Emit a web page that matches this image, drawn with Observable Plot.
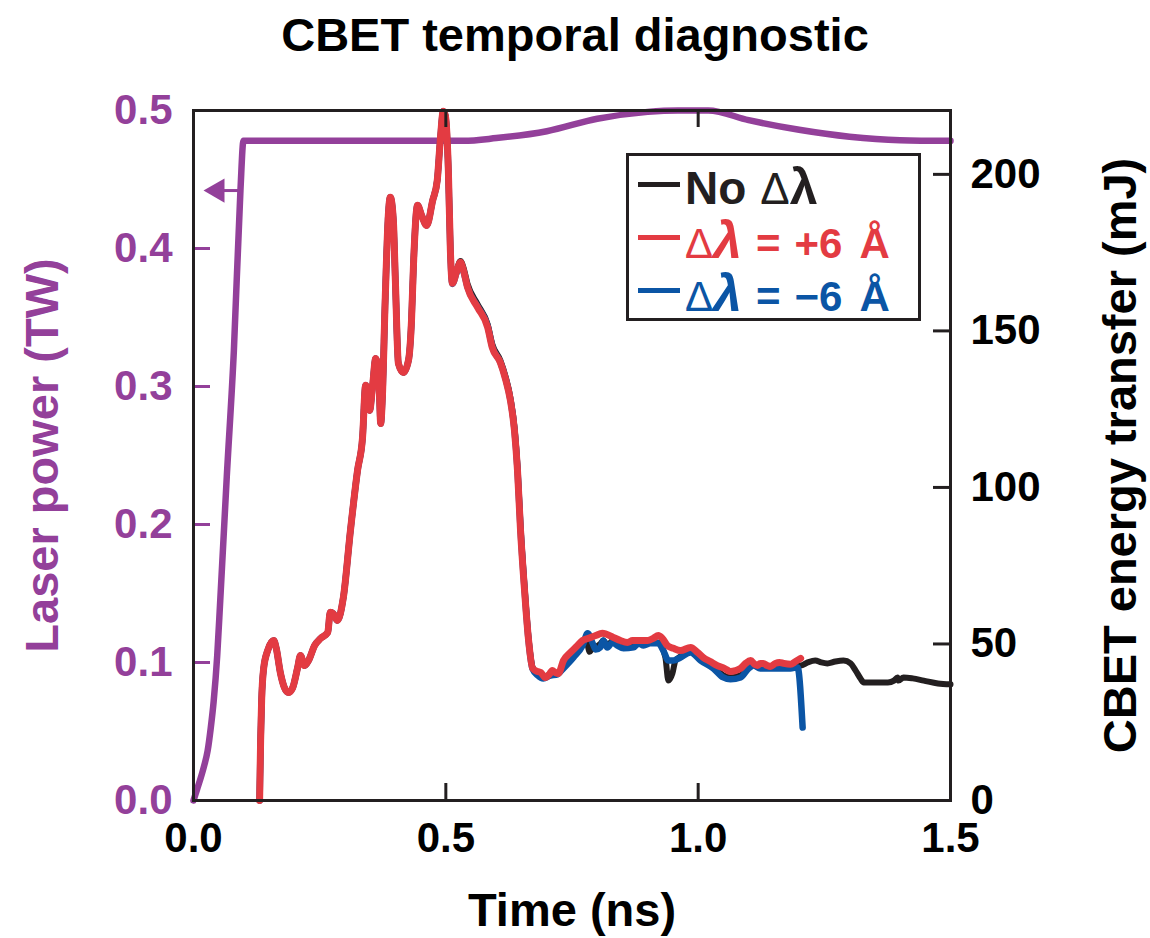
<!DOCTYPE html>
<html><head><meta charset="utf-8">
<script src="https://cdn.jsdelivr.net/npm/d3@7"></script>
<script src="https://cdn.jsdelivr.net/npm/@observablehq/plot@0.6"></script>
<style>
body{margin:0;background:#fff;font-family:"Liberation Sans",Arial,sans-serif;}
#wrap{position:relative;width:1150px;height:938px;overflow:hidden;}
#title{position:absolute;left:0;top:0;width:1150px;height:70px;line-height:70px;text-align:center;font-weight:bold;font-size:47px;color:#000;}
#chart{position:absolute;left:0;top:70px;}
#legend{position:absolute;left:626px;top:153px;width:295px;height:168px;box-sizing:border-box;border:3px solid #231f20;background:#fff;font-weight:bold;}
.row{position:absolute;left:0;height:50px;line-height:50px;white-space:nowrap;}
.sw{position:absolute;left:9px;top:20px;width:42px;height:5px;}
.tx{position:absolute;left:56px;top:0;}
.thin{font-weight:normal;}
</style></head>
<body><div id="wrap">
<div id="title">CBET temporal diagnostic</div>
<div id="chart"></div>
<div id="legend"></div>
</div>
<script>
// ---- data ----
const xTicks = [0, 0.5, 1.0, 1.5];
const leftTicks = [0, 0.1, 0.2, 0.3, 0.4, 0.5];
const rightTicksMJ = [0, 50, 100, 150, 200];
const ENERGY_TOP = 220.4; // mJ at top of the frame (right axis)

// laser power (TW)
const laserT = [0, 0.007, 0.014, 0.021, 0.028, 0.034, 0.040, 0.047, 0.053, 0.066, 0.080, 0.093, 0.099, 0.300, 0.535, 0.600, 0.700, 0.800, 0.900, 0.960, 1.020, 1.100, 1.200, 1.300, 1.400, 1.500];
const laserP = [0, 0.008, 0.016, 0.025, 0.036, 0.052, 0.072, 0.105, 0.145, 0.235, 0.326, 0.442, 0.478, 0.478, 0.478, 0.480, 0.485, 0.494, 0.499, 0.500, 0.500, 0.493, 0.486, 0.481, 0.4785, 0.478];

// CBET energy transfer (mJ): shared rise (all three overlap)
const commonT = [0.131,0.133,0.135,0.139,0.147,0.159,0.164,0.172,0.180,0.188,0.196,0.206,0.212,0.220,0.228,0.240,0.252,0.266,0.271,0.277,0.285,0.297,0.311,0.325,0.335,0.341,0.345,0.349,0.355,0.361,0.367,0.371,0.374,0.380,0.386,0.390,0.396,0.400,0.406,0.416,0.426,0.432,0.436,0.444,0.452,0.462,0.474,0.483,0.489,0.495,0.499];
const commonE = [0,19.2,31.9,42.2,47.9,51.1,48.6,40.9,36.1,34.5,35.8,42.2,46.3,43.1,44.7,49.5,51.8,53.7,60.1,59.7,57.5,64.9,86.3,105.4,116.0,132.6,130.4,124.6,132.6,141.2,135.8,120.4,127.8,160.7,186.9,192.7,185.3,166.1,139.6,136.7,140.6,153.4,171.6,190.1,186.9,183.7,191.7,198.1,210.9,220.2,218.8];

// Δλ = +6 Å (red) tail
const redT = [0.505,0.509,0.513,0.521,0.529,0.535,0.543,0.563,0.583,0.592,0.608,0.618,0.628,0.636,0.642,0.648,0.656,0.664,0.672,0.682,0.688,0.697,0.705,0.711,0.717,0.723,0.733,0.747,0.759,0.771,0.783,0.797,0.810,0.832,0.846,0.860,0.870,0.880,0.900,0.911,0.921,0.929,0.939,0.951,0.965,0.985,0.999,1.010,1.024,1.038,1.052,1.064,1.074,1.084,1.094,1.104,1.112,1.118,1.123,1.129,1.137,1.143,1.153,1.161,1.169,1.183,1.193,1.203];
const redE = [201.3,175.7,165.2,168.7,171.9,169.3,163.9,157.5,151.1,144.7,139.9,134.8,127.8,118.2,105.4,86.3,67.1,51.1,42.2,41.2,40.9,39.3,40.3,41.5,40.9,40.6,44.7,47.3,49.2,51.1,51.8,52.7,53.4,52.1,51.1,50.5,51.1,51.1,51.1,51.8,52.7,51.8,49.5,48.6,47.9,48.9,47.3,45.7,44.4,43.1,42.2,41.2,41.5,42.2,43.8,44.7,43.5,43.1,43.8,43.8,43.1,42.8,43.8,44.1,43.8,43.5,44.4,45.4];

// No Δλ (black) tail
const blackT = [0.505,0.509,0.513,0.521,0.529,0.535,0.543,0.563,0.583,0.592,0.608,0.618,0.628,0.636,0.642,0.648,0.656,0.664,0.672,0.682,0.693,0.707,0.721,0.733,0.753,0.771,0.779,0.785,0.791,0.797,0.806,0.812,0.820,0.830,0.840,0.852,0.872,0.882,0.892,0.905,0.921,0.935,0.941,0.949,0.955,0.965,0.985,1.005,1.030,1.050,1.064,1.084,1.100,1.110,1.123,1.143,1.157,1.183,1.203,1.217,1.232,1.244,1.256,1.272,1.288,1.302,1.312,1.322,1.328,1.352,1.376,1.388,1.395,1.397,1.407,1.425,1.447,1.475,1.500];
const blackE = [201.5,176.3,165.8,169.3,172.3,170.2,165.0,158.5,152.0,145.8,140.6,135.6,128.6,119.2,106.5,87.6,68.2,51.8,42.5,40.5,39.5,40.3,40.6,42.5,46.0,49.8,50.5,47.5,48.6,49.0,50.0,51.1,49.5,51.0,50.2,49.5,49.5,50.5,50.0,50.5,50.5,45.7,38.3,40.6,44.7,46.0,47.6,45.0,42.8,40.0,39.3,40.0,42.8,43.5,42.8,42.8,43.1,43.1,43.1,44.1,44.7,44.1,43.8,44.4,44.7,43.8,41.5,38.9,37.7,37.7,37.7,38.3,39.3,38.3,39.3,39.0,38.3,37.4,37.1];

// Δλ = −6 Å (blue) tail
const blueT = [0.505,0.509,0.513,0.521,0.529,0.535,0.543,0.563,0.583,0.592,0.608,0.618,0.628,0.636,0.642,0.648,0.656,0.664,0.672,0.682,0.693,0.707,0.721,0.733,0.753,0.771,0.781,0.791,0.797,0.806,0.812,0.820,0.830,0.840,0.852,0.872,0.882,0.892,0.905,0.921,0.931,0.941,0.951,0.965,0.985,1.005,1.030,1.050,1.064,1.084,1.100,1.110,1.123,1.143,1.157,1.183,1.197,1.207];
const blueE = [201.0,175.5,165.0,168.5,171.5,169.0,164.0,157.8,151.5,145.0,140.0,135.0,128.0,118.5,105.8,86.8,67.5,51.0,42.0,40.0,39.0,39.9,40.3,42.2,45.7,49.5,53.4,50.2,48.2,48.9,51.1,48.9,50.5,49.5,48.6,48.9,50.2,49.5,50.2,50.2,47.9,44.7,44.7,45.7,47.3,44.7,42.2,39.3,38.7,39.3,42.2,43.1,42.2,42.2,42.2,42.2,42.5,23.3];

// arrow pointing to the left axis (laser power curve)
const arrowP = 0.442, arrowTail = 0.093, arrowTip = 0.0476;

// legend entries
const legendRows = [
  {color: "#231f20", html: '<span style="font-size:46px">No</span><span class="thin" style="font-size:44px;margin-left:14px">Δ</span><span style="font-size:50px">λ</span>'},
  {color: "#e33b42", html: '<span class="thin" style="font-size:42px">Δ</span><span style="font-size:52px;font-style:italic">λ</span><span style="font-size:42px;margin-left:14px">=</span><span style="font-size:42px;margin-left:14px">+6</span><span style="font-size:42px;margin-left:17px">Å</span>'},
  {color: "#0b55a5", html: '<span class="thin" style="font-size:42px">Δ</span><span style="font-size:52px;font-style:italic">λ</span><span style="font-size:42px;margin-left:14px">=</span><span style="font-size:42px;margin-left:14px">−6</span><span style="font-size:42px;margin-left:17px">Å</span>'}
];

// ---- chart ----
const PURPLE = "#93409a", RED = "#e33b42", BLUE = "#0b55a5", BLACK = "#231f20";
const FONT = '"Liberation Sans", Arial, sans-serif';
const W = 1150, H = 868, ML = 193, MR = 200, MT = 40, MB = 138;
const plotW = W - ML - MR, plotH = H - MT - MB;
const k = 0.5 / ENERGY_TOP; // TW per mJ on the shared y scale
const mk = (T, E) => T.map((t, i) => ({t, p: E[i] * k}));
const laser = laserT.map((t, i) => ({t, p: laserP[i]}));
const red = mk(commonT.concat(redT), commonE.concat(redE));
const black = mk(commonT.concat(blackT), commonE.concat(blackE));
const blue = mk(commonT.concat(blueT), commonE.concat(blueE));
const inner = leftTicks.filter(d => d > 0 && d < 0.5);
const innerR = rightTicksMJ.filter(d => d > 0).map(d => d * k);
const innerX = xTicks.filter(d => d > 0 && d < 1.5);

const chart = Plot.plot({
  width: W, height: H, marginLeft: ML, marginRight: MR, marginTop: MT, marginBottom: MB,
  x: {domain: [0, 1.5]},
  y: {domain: [0, 0.5]},
  style: {fontFamily: FONT, background: "white", overflow: "visible"},
  marks: [
    Plot.line(laser, {x: "t", y: "p", stroke: PURPLE, strokeWidth: 6.5, curve: "monotone-x"}),
    Plot.line(black, {x: "t", y: "p", stroke: BLACK, strokeWidth: 6, curve: "monotone-x"}),
    Plot.line(blue, {x: "t", y: "p", stroke: BLUE, strokeWidth: 6.5, curve: "monotone-x"}),
    Plot.line(red, {x: "t", y: "p", stroke: RED, strokeWidth: 7, curve: "monotone-x"}),
    Plot.ruleY([arrowP], {y: d => d, x1: () => arrowTip + 0.01, x2: () => arrowTail, stroke: PURPLE, strokeWidth: 3}),
    Plot.dot([arrowP], {x: () => arrowTip, y: d => d, symbol: "triangle", rotate: -90, r: 9, fill: PURPLE, stroke: "none"}),
    // inward ticks
    Plot.tickY(inner, {y: d => d, stroke: PURPLE, strokeWidth: 3, insetRight: plotW - 17}),
    Plot.tickY(innerR, {y: d => d, stroke: BLACK, strokeWidth: 3, insetLeft: plotW - 17}),
    Plot.tickX(innerX, {x: d => d, stroke: BLACK, strokeWidth: 3, insetTop: plotH - 17}),
    Plot.tickX(innerX, {x: d => d, stroke: BLACK, strokeWidth: 3, insetBottom: plotH - 17}),
    Plot.frame({stroke: BLACK, strokeWidth: 3}),
    // tick labels
    Plot.axisX(xTicks, {anchor: "bottom", tickSize: 0, tickPadding: 22, tickFormat: d3.format(".1f"), fontSize: 42, fontWeight: "bold", color: "#000", label: null}),
    Plot.axisY(leftTicks, {anchor: "left", tickSize: 0, tickPadding: 21, tickFormat: d3.format(".1f"), fontSize: 42, fontWeight: "bold", color: PURPLE, label: null}),
    Plot.axisY(rightTicksMJ.map(d => d * k), {anchor: "right", tickSize: 0, tickPadding: 20, tickFormat: d => String(Math.round(d / k)), fontSize: 42, fontWeight: "bold", color: "#000", label: null}),
    // axis titles
    Plot.text(["Laser power (TW)"], {text: d => d, frameAnchor: "left", dx: -151, rotate: -90, fontSize: 47, fontWeight: "bold", fill: PURPLE, textAnchor: "middle", lineAnchor: "middle"}),
    Plot.text(["CBET energy transfer (mJ)"], {text: d => d, frameAnchor: "right", dx: 170, rotate: -90, fontSize: 47, fontWeight: "bold", fill: "#000", textAnchor: "middle", lineAnchor: "middle"}),
    Plot.text(["Time (ns)"], {text: d => d, frameAnchor: "bottom", dy: 110, fontSize: 47, fontWeight: "bold", fill: "#000", textAnchor: "middle", lineAnchor: "middle"})
  ]
});
document.getElementById("chart").appendChild(chart);

// legend
const leg = document.getElementById("legend");
const rowTops = [6, 59, 112];
legendRows.forEach((r, i) => {
  const row = document.createElement("div");
  row.className = "row";
  row.style.top = rowTops[i] + "px";
  row.style.color = r.color;
  row.innerHTML = `<div class="sw" style="background:${r.color}"></div><div class="tx">${r.html}</div>`;
  leg.appendChild(row);
});
</script>
</body></html>
